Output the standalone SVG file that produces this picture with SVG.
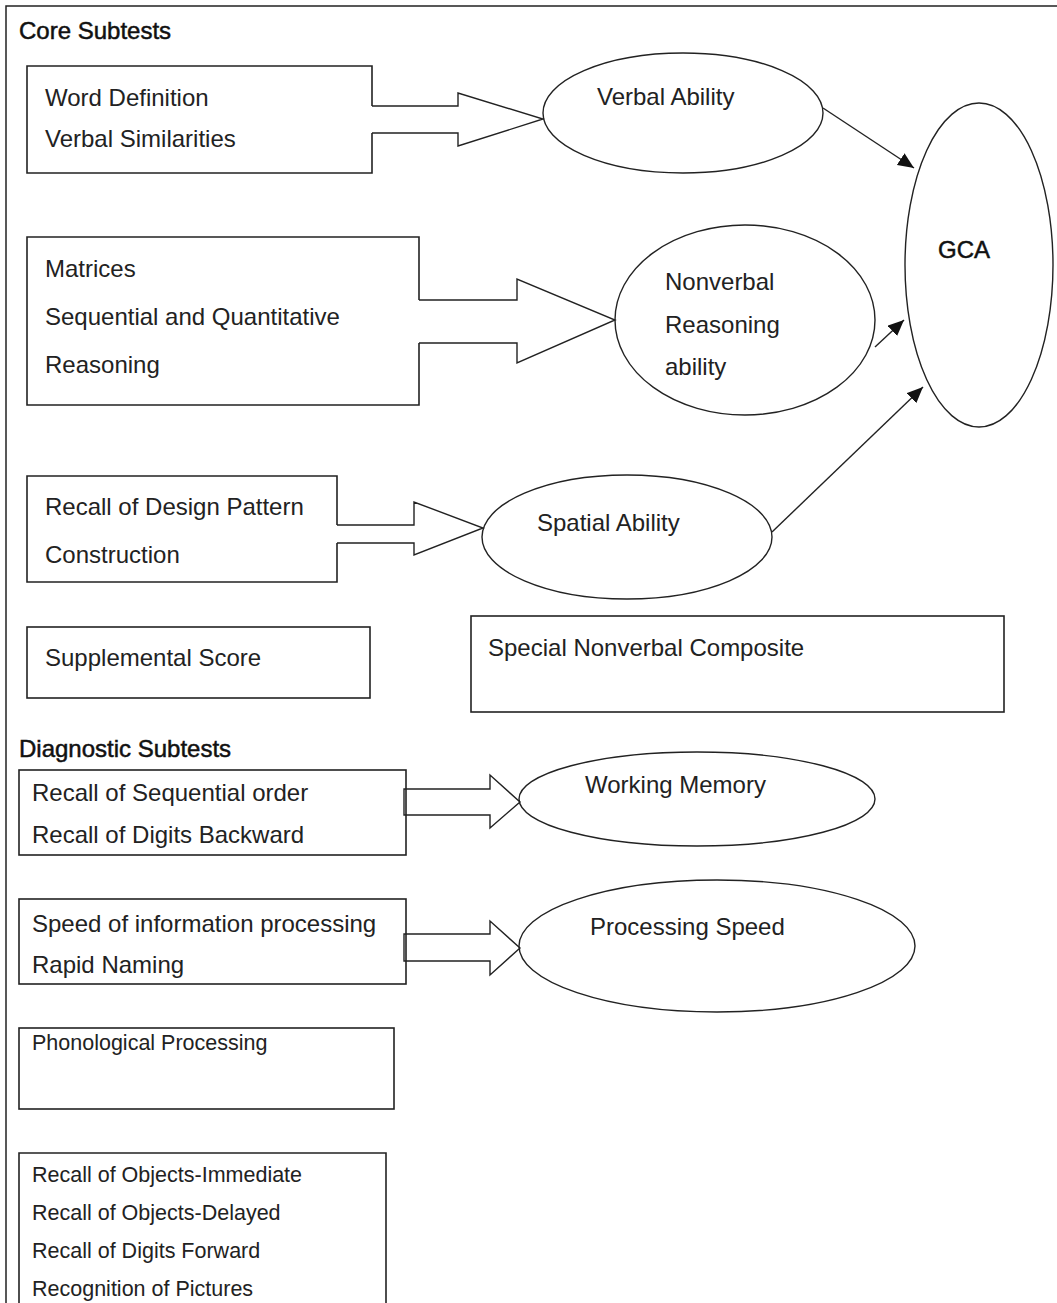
<svg xmlns="http://www.w3.org/2000/svg" width="1057" height="1303" viewBox="0 0 1057 1303">
<style>
  .bg { fill: #ffffff; }
  .frame { fill: none; stroke: #222; stroke-width: 1.5; }
  .box { fill: none; stroke: #222; stroke-width: 1.6; }
  .ell { fill: none; stroke: #222; stroke-width: 1.4; }
  .blk { fill: #ffffff; stroke: #222; stroke-width: 1.4; stroke-linejoin: miter; }
  .thin { fill: none; stroke: #222; stroke-width: 1.4; }
  .t { font-family: "Liberation Sans", Arial, sans-serif; font-size: 24px; fill: #222; }
  .s { font-family: "Liberation Sans", Arial, sans-serif; font-size: 21.5px; fill: #222; }
  .h { font-family: "Liberation Sans", Arial, sans-serif; font-size: 24px; fill: #111; stroke: #111; stroke-width: 0.5; }
</style>
<defs>
  <marker id="ah" markerUnits="userSpaceOnUse" markerWidth="16" markerHeight="14" viewBox="0 0 16 14" refX="16" refY="7" orient="auto">
    <path d="M0,0 L16,7 L0,14 Z" fill="#111"/>
  </marker>
</defs>
<rect class="bg" x="0" y="0" width="1057" height="1303"/>
<path class="frame" d="M6,1303 V6 H1057"/>

<g id="heading-core"><text class="h" x="19" y="39">Core Subtests</text></g>
<g id="heading-diagnostic"><text class="h" x="19" y="757">Diagnostic Subtests</text></g>

<g id="connectors">
  <path class="blk" d="M372,106 H458 V93 L543,119 L458,146 V133 H372"/>
  <path class="blk" d="M419,300 H517 V279 L615,320 L517,363 V343 H419"/>
  <path class="blk" d="M337,525 H414 V502 L483,528 L414,555 V543 H337"/>
  <path class="blk" d="M404,789 H490 V775 L520,802 L490,828 V815 H404 Z"/>
  <path class="blk" d="M404,934 H490 V921 L520,948 L490,975 V961 H404 Z"/>
  <line class="thin" x1="823" y1="108" x2="914" y2="168" marker-end="url(#ah)"/>
  <line class="thin" x1="875" y1="347" x2="904" y2="320" marker-end="url(#ah)"/>
  <line class="thin" x1="772" y1="532" x2="923" y2="387" marker-end="url(#ah)"/>
</g>

<g id="box-verbal">
  <path class="box" d="M372,106 V66 H27 V173 H372 V133"/>
  <text class="t" x="45" y="106">Word Definition</text>
  <text class="t" x="45" y="147">Verbal Similarities</text>
</g>
<g id="box-nonverbal">
  <path class="box" d="M419,300 V237 H27 V405 H419 V343"/>
  <text class="t" x="45" y="277">Matrices</text>
  <text class="t" x="45" y="325">Sequential and Quantitative</text>
  <text class="t" x="45" y="373">Reasoning</text>
</g>
<g id="box-spatial">
  <path class="box" d="M337,525 V476 H27 V582 H337 V543"/>
  <text class="t" x="45" y="515">Recall of Design Pattern</text>
  <text class="t" x="45" y="563">Construction</text>
</g>

<g id="ell-verbal">
  <ellipse class="ell" cx="683" cy="113" rx="140" ry="60"/>
  <text class="t" x="597" y="105">Verbal Ability</text>
</g>
<g id="ell-nonverbal">
  <ellipse class="ell" cx="745" cy="320" rx="130" ry="95"/>
  <text class="t" x="665" y="290">Nonverbal</text>
  <text class="t" x="665" y="333">Reasoning</text>
  <text class="t" x="665" y="375">ability</text>
</g>
<g id="ell-spatial">
  <ellipse class="ell" cx="627" cy="537" rx="145" ry="62"/>
  <text class="t" x="537" y="531">Spatial Ability</text>
</g>
<g id="ell-gca">
  <ellipse class="ell" cx="979" cy="265" rx="74" ry="162"/>
  <text class="h" x="938" y="258">GCA</text>
</g>

<g id="box-supplemental">
  <rect class="box" x="27" y="627" width="343" height="71"/>
  <text class="t" x="45" y="666">Supplemental Score</text>
</g>
<g id="box-special">
  <rect class="box" x="471" y="616" width="533" height="96"/>
  <text class="t" x="488" y="656">Special Nonverbal Composite</text>
</g>

<g id="box-wm">
  <rect class="box" x="19" y="770" width="387" height="85"/>
  <text class="t" x="32" y="801">Recall of Sequential order</text>
  <text class="t" x="32" y="843">Recall of Digits Backward</text>
</g>
<g id="ell-wm">
  <ellipse class="ell" cx="697" cy="799" rx="178" ry="47"/>
  <text class="t" x="585" y="793">Working Memory</text>
</g>
<g id="box-ps">
  <rect class="box" x="19" y="899" width="387" height="85"/>
  <text class="t" x="32" y="932">Speed of information processing</text>
  <text class="t" x="32" y="973">Rapid Naming</text>
</g>
<g id="ell-ps">
  <ellipse class="ell" cx="717" cy="946" rx="198" ry="66"/>
  <text class="t" x="590" y="935">Processing Speed</text>
</g>
<g id="box-phono">
  <rect class="box" x="19" y="1028" width="375" height="81"/>
  <text class="s" x="32" y="1050">Phonological Processing</text>
</g>
<g id="box-recall">
  <path class="box" d="M19,1303 V1153 H386 V1303"/>
  <text class="s" x="32" y="1182">Recall of Objects-Immediate</text>
  <text class="s" x="32" y="1220">Recall of Objects-Delayed</text>
  <text class="s" x="32" y="1258">Recall of Digits Forward</text>
  <text class="s" x="32" y="1296">Recognition of Pictures</text>
</g>
</svg>
